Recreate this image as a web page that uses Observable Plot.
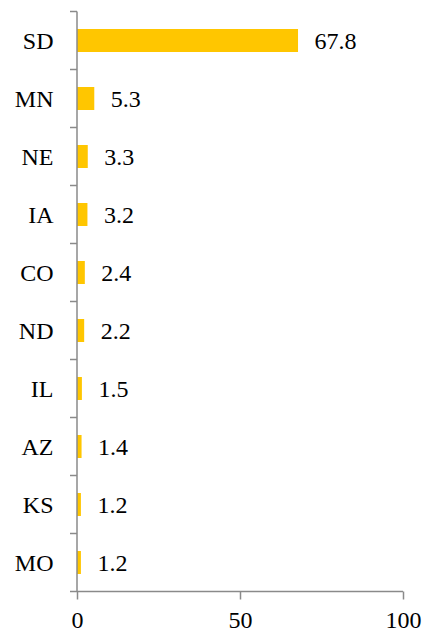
<!DOCTYPE html>
<html>
<head>
<meta charset="utf-8">
<script src="https://cdn.jsdelivr.net/npm/d3@7"></script>
<script src="https://cdn.jsdelivr.net/npm/@observablehq/plot@0.6"></script>
<style>
  html, body { margin: 0; padding: 0; background: #fff; }
</style>
</head>
<body>
<div id="chart"></div>
<script>
const states = ["SD", "MN", "NE", "IA", "CO", "ND", "IL", "AZ", "KS", "MO"];
const values = [67.8, 5.3, 3.3, 3.2, 2.4, 2.2, 1.5, 1.4, 1.2, 1.2];
const xTicks = [0, 50, 100];

const data = states.map((s, i) => ({state: s, value: values[i]}));
const axisColor = "#8a8a8a";
const font = "'Liberation Serif', 'Times New Roman', serif";
const fs = 24;

function axisLines(index, scales, values, dims) {
  const g = d3.create("svg:g").attr("stroke", axisColor).attr("stroke-width", 1.5).attr("fill", "none");
  const x0 = scales.x(0);
  const yTop = dims.marginTop;
  const yBot = dims.height - dims.marginBottom;
  const xRight = dims.width - dims.marginRight;
  g.append("line").attr("x1", x0).attr("x2", x0).attr("y1", yTop).attr("y2", yBot);
  g.append("line").attr("x1", x0).attr("x2", xRight).attr("y1", yBot).attr("y2", yBot);
  const step = (yBot - yTop) / states.length;
  for (let i = 0; i <= states.length; i++) {
    const b = yTop + i * step;
    g.append("line").attr("x1", x0 - 7).attr("x2", x0).attr("y1", b).attr("y2", b);
  }
  return g.node();
}

const chart = Plot.plot({
  width: 423,
  height: 633,
  marginLeft: 77,
  marginRight: 20,
  marginTop: 11.5,
  marginBottom: 41.5,
  style: {fontFamily: font, fontSize: fs + "px", color: "#000", background: "#fff"},
  x: {domain: [0, 100], ticks: xTicks},
  y: {domain: states, paddingInner: 0.6, paddingOuter: 0.3, align: 0.5},
  marks: [
    Plot.barX(data, {x: "value", y: "state", fill: "#FFC600"}),
    Plot.text(data, {x: "value", y: "state", text: d => d.value.toFixed(1), textAnchor: "start", dx: 16, fontSize: fs, fill: "#000"}),
    axisLines,
    Plot.axisX({ticks: xTicks, tickSize: 8, tickPadding: 11, stroke: axisColor, strokeWidth: 1.5, fill: "#000", fontSize: fs, label: null, tickFormat: d => String(d)}),
    Plot.axisY({tickSize: 0, tickPadding: 24, fill: "#000", fontSize: fs, label: null})
  ]
});
document.getElementById("chart").appendChild(chart);
</script>
</body>
</html>
